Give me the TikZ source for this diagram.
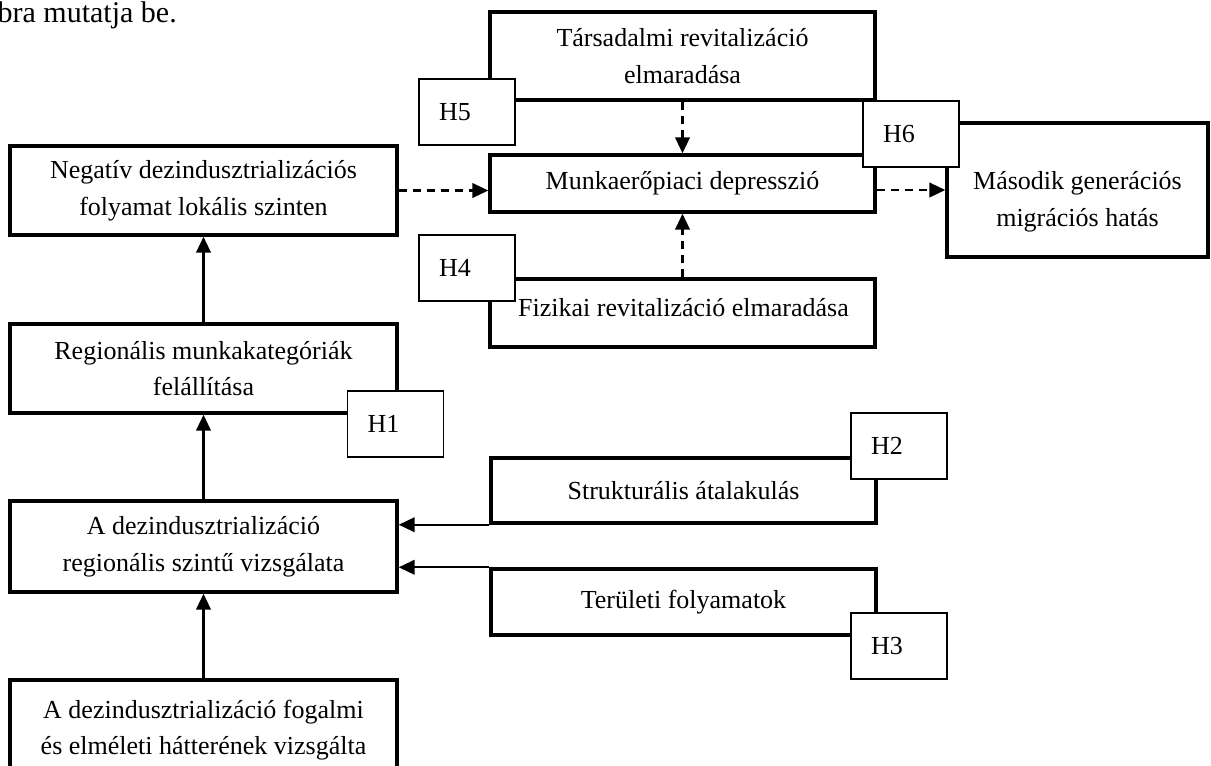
\documentclass[tikz,border=0pt]{standalone}
\usepackage{fontspec}
\setmainfont{Liberation Serif}
\usetikzlibrary{arrows.meta}
\begin{document}
\begin{tikzpicture}[x=0.75pt,y=-0.75pt,
  box/.style={draw, line width=2.6pt, align=center, inner sep=0pt,
    font=\fontsize{19.5}{27.5}\selectfont},
  txt/.style={align=center, inner sep=0pt, font=\fontsize{19.5}{27.5}\selectfont},
  hbox/.style={draw, line width=1.1pt, fill=white, minimum height=49.5pt,
    text width=42pt, inner xsep=15pt, align=left,
    font=\fontsize{19.5}{24}\selectfont},
  arr/.style={line width=1.6pt, -{Triangle[length=12pt,width=11pt]}},
  darr/.style={arr, dash pattern=on 6pt off 4.5pt},
]
\useasboundingbox (0,0) rectangle (1211,765);
\clip (0,0) rectangle (1211,765);

\node[anchor=base east, inner sep=0pt, font=\fontsize{22.5}{27}\selectfont] (intro) at (177,22) {bra mutatja be.};

% main boxes
\node[box, minimum width=288.75pt, minimum height=66pt] (tars) at (682.5,56) {Társadalmi revitalizáció\\elmaradása};
\node[box, minimum width=288.75pt, minimum height=42.75pt] (munk) at (682.5,183.5) {Munkaerőpiaci depresszió};
\node[box, minimum width=195.75pt, minimum height=100.5pt] (mas) at (1077.5,190) {};
\node[txt] (mastext) at (1077.5,202) {Második generációs\\migrációs hatás};
\node[box, minimum width=288.75pt, minimum height=51pt] (fiz) at (682.5,313) {};
\node[txt] (fiztext) at (683.5,308) {Fizikai revitalizáció elmaradása};
\node[box, minimum width=290.25pt, minimum height=66.75pt] (neg) at (203.5,190.5) {Negatív dezindusztrializációs\\folyamat lokális szinten};
\node[box, minimum width=290.25pt, minimum height=66.75pt] (reg) at (203.5,368.5) {Regionális munkakategóriák\\felállítása};
\node[box, minimum width=290.25pt, minimum height=68.25pt] (adr) at (203.5,546.5) {A dezindusztrializáció\\regionális szintű vizsgálata};
\node[box, minimum width=290.25pt, minimum height=75pt] (fog) at (203.5,730) {A dezindusztrializáció fogalmi\\és elméleti hátterének vizsgálta};
\node[box, minimum width=288.75pt, minimum height=48.75pt] (str) at (683.5,490.5) {Strukturális átalakulás};
\node[box, minimum width=288.75pt, minimum height=49.5pt] (ter) at (683.5,602) {Területi folyamatok};

% connectors
\draw[arr] (reg) -- (neg);
\draw[arr] (adr) -- (reg);
\draw[arr] (fog) -- (adr);
\draw[darr] (neg.east) -- (neg.east -| munk.west);
\draw[darr] (tars) -- (munk);
\draw[darr] (fiz) -- (munk);
\draw[darr] (munk.east |- mas.west) -- (mas.west);
\draw[arr] (str.south west) -- (str.south west -| adr.east);
\draw[arr] (ter.north west) -- (ter.north west -| adr.east);

% hypothesis labels
\node[hbox] (h5) at (467,112) {H5};
\node[hbox] (h4) at (467,268) {H4};
\node[hbox] (h6) at (911,134) {H6};
\node[hbox] (h1) at (395.5,424) {H1};
\node[hbox] (h2) at (899,446) {H2};
\node[hbox] (h3) at (899,646) {H3};
\end{tikzpicture}
\end{document}
